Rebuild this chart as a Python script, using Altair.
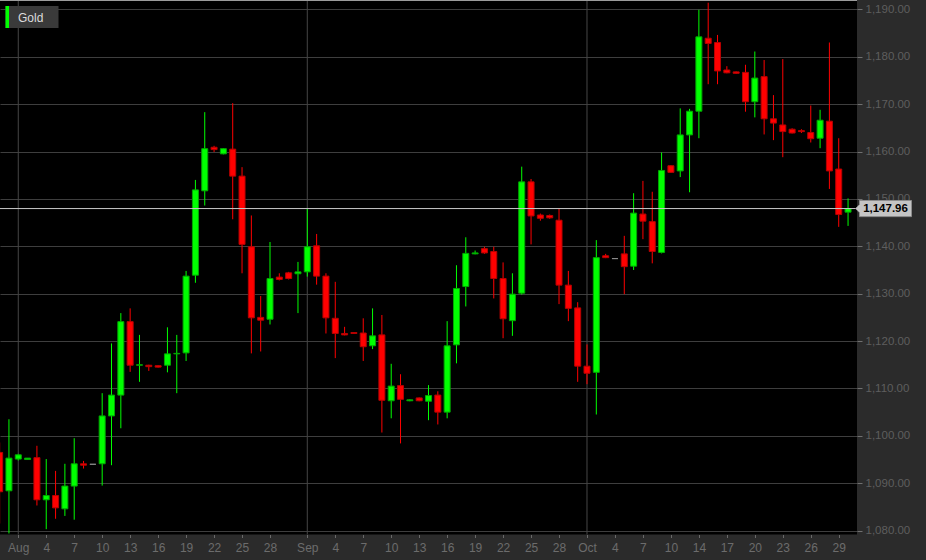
import json

import altair as alt
import numpy as np
import pandas as pd

# Daily gold candles, one session per calendar slot, first one two slots before Aug 1
series_name = "Gold"
first_session = -2

opens = [
    1096.5, 1088.4, 1095.1, 1095.0, 1095.4, 1086.5, 1087.4, 1084.6, 1089.4, 1094.1,
    1094.0, 1094.1, 1104.2, 1108.6, 1124.1, 1114.9, 1114.9, 1114.8, 1114.9, 1117.3,
    1117.5, 1133.9, 1151.7, 1160.9, 1159.5, 1160.5, 1154.8, 1139.9, 1125.0, 1124.6,
    1133.5, 1134.4, 1134.2, 1134.6, 1140.1, 1133.7, 1124.8, 1121.6, 1121.8, 1121.7,
    1119.0, 1121.3, 1107.4, 1110.6, 1107.4, 1108.0, 1107.3, 1108.6, 1105.0, 1119.2,
    1131.5, 1138.4, 1139.5, 1138.9, 1133.2, 1124.3, 1130.1, 1153.6, 1146.6, 1146.5,
    1145.5, 1131.8, 1127.0, 1114.7, 1113.4, 1138.0, 1137.4, 1138.4, 1135.8, 1146.8,
    1145.2, 1138.7, 1157.0, 1155.9, 1163.5, 1168.5, 1183.9, 1183.0, 1177.2, 1176.8,
    1176.7, 1170.5, 1175.8, 1166.9, 1165.6, 1164.7, 1164.4, 1164.0, 1162.8, 1166.4,
    1156.3, 1147.2,
]
highs = [
    1098.6, 1103.5, 1096.2, 1095.2, 1097.9, 1095.1, 1092.6, 1094.1, 1099.5, 1094.7,
    1094.0, 1109.0, 1119.5, 1125.9, 1126.9, 1121.3, 1115.0, 1114.9, 1122.9, 1121.3,
    1134.8, 1154.0, 1168.3, 1161.2, 1160.7, 1170.2, 1156.7, 1146.5, 1129.5, 1140.9,
    1134.3, 1134.6, 1136.7, 1148.0, 1142.6, 1134.3, 1132.5, 1123.0, 1121.9, 1124.8,
    1126.9, 1125.5, 1115.2, 1113.0, 1107.7, 1108.1, 1110.7, 1109.4, 1124.2, 1136.0,
    1141.9, 1139.1, 1139.9, 1139.9, 1136.6, 1134.3, 1156.8, 1154.2, 1146.9, 1146.7,
    1148.0, 1134.8, 1128.2, 1119.3, 1141.3, 1138.4, 1137.4, 1142.2, 1151.2, 1153.8,
    1151.5, 1159.8, 1157.1, 1169.1, 1169.0, 1189.9, 1191.4, 1184.6, 1178.0, 1176.9,
    1178.3, 1181.1, 1179.3, 1171.9, 1179.5, 1164.9, 1164.7, 1169.7, 1168.8, 1183.0,
    1162.8, 1150.1,
]
lows = [
    1081.5, 1079.4, 1094.8, 1094.9, 1085.3, 1080.3, 1082.5, 1083.1, 1082.3, 1093.1,
    1094.0, 1089.5, 1093.8, 1101.6, 1113.5, 1111.4, 1113.7, 1114.4, 1113.4, 1109.0,
    1115.8, 1132.3, 1148.6, 1159.9, 1159.4, 1145.7, 1134.3, 1117.4, 1117.8, 1123.5,
    1132.8, 1133.0, 1125.9, 1133.6, 1131.9, 1121.6, 1116.4, 1121.2, 1121.5, 1115.8,
    1118.3, 1100.7, 1103.7, 1098.4, 1107.3, 1107.3, 1103.3, 1102.4, 1103.7, 1115.3,
    1127.3, 1138.3, 1138.4, 1129.0, 1120.6, 1121.1, 1129.8, 1140.4, 1145.4, 1145.8,
    1127.8, 1124.2, 1111.4, 1110.9, 1104.5, 1137.5, 1137.4, 1129.9, 1135.0, 1141.5,
    1136.4, 1138.5, 1155.5, 1154.6, 1151.4, 1162.8, 1174.2, 1174.2, 1176.5, 1176.4,
    1168.4, 1167.2, 1163.6, 1162.4, 1158.8, 1163.8, 1163.9, 1161.9, 1160.7, 1152.1,
    1144.1, 1144.3,
]
closes = [
    1088.2, 1095.3, 1096.0, 1095.3, 1086.5, 1087.4, 1084.8, 1089.4, 1094.1, 1093.8,
    1094.0, 1104.2, 1108.6, 1124.1, 1114.9, 1115.0, 1114.6, 1114.5, 1117.3, 1117.4,
    1133.7, 1151.9, 1160.6, 1160.4, 1160.6, 1154.8, 1140.4, 1124.9, 1124.4, 1133.2,
    1133.0, 1133.2, 1134.6, 1139.9, 1133.7, 1124.9, 1121.6, 1121.3, 1121.6, 1118.8,
    1121.1, 1107.5, 1110.5, 1107.7, 1107.6, 1107.4, 1108.5, 1105.0, 1119.0, 1131.1,
    1138.5, 1138.6, 1138.6, 1133.2, 1124.7, 1129.9, 1153.6, 1146.4, 1145.9, 1146.0,
    1131.8, 1126.9, 1114.7, 1113.2, 1137.6, 1137.6, 1137.4, 1135.7, 1147.0, 1145.3,
    1138.9, 1156.0, 1155.6, 1163.5, 1168.5, 1184.2, 1182.8, 1177.0, 1176.6, 1176.5,
    1170.5, 1175.5, 1166.9, 1166.0, 1164.2, 1163.9, 1164.2, 1162.7, 1166.6, 1155.9,
    1146.7, 1147.96,
]

# Bottom axis: session number -> label
tick_sessions = [0, 3, 6, 9, 12, 15, 18, 21, 24, 27,
                 31, 34, 37, 40, 43, 46, 49, 52, 55, 58,
                 61, 64, 67, 70, 73, 76, 79, 82, 85, 88]
tick_labels = ["Aug", "4", "7", "10", "13", "16", "19", "22", "25", "28",
               "Sep", "4", "7", "10", "13", "16", "19", "22", "25", "28",
               "Oct", "4", "7", "10", "14", "17", "20", "23", "26", "29"]
month_sessions = [0, 31, 61]
price_ticks = [1080, 1090, 1100, 1110, 1120, 1130, 1140, 1150, 1160, 1170, 1180, 1190]

PLOT_W, PLOT_H = 857, 534.5
x_domain = [-1.96, 89.96]
y_domain = [1079.18, 1191.97]

o = np.array(opens)
c = np.array(closes)
df = pd.DataFrame({
    "session": np.arange(first_session, first_session + len(opens)),
    "open": opens, "high": highs, "low": lows, "close": closes,
    "dir": np.where(c > o, "up", np.where(c < o, "down", "flat")),
})

xs = alt.Scale(domain=x_domain, nice=False, zero=False, padding=0)
ys = alt.Scale(domain=y_domain, nice=False, zero=False, padding=0)
dir_domain = ["up", "down", "flat"]
fill_scale = alt.Scale(domain=dir_domain, range=["#00ff00", "#ff0000", "#8a8a8a"])
stroke_scale = alt.Scale(domain=dir_domain, range=["#00a800", "#b80000", "#8a8a8a"])

label_expr = "{}[indexof({}, datum.value)]".format(json.dumps(tick_labels), json.dumps(tick_sessions))

x_axis = alt.Axis(values=tick_sessions, labelExpr=label_expr, title=None, grid=False,
                  domain=False, ticks=True, tickSize=3, tickColor="#6a6a6a",
                  labelColor="#6c6c6c", labelFontSize=12, labelFont="Liberation Sans",
                  labelPadding=5)
y_axis = alt.Axis(orient="right", values=price_ticks, format=",.2f", title=None,
                  grid=True, gridColor="#3e3e3e", gridWidth=1, domain=False,
                  tickSize=5, tickColor="#707070", labelColor="#5e5e5e",
                  labelFontSize=11.5, labelFont="Liberation Sans", labelPadding=3)


def px(field):
    return alt.X(field, type="quantitative", scale=xs, axis=x_axis)


def py(field):
    return alt.Y(field, type="quantitative", scale=ys, axis=y_axis)


# Month separators
months = alt.Chart(pd.DataFrame({"session": month_sessions})).mark_rule(
    color="#464646", strokeWidth=1
).encode(
    x=px("session"),
    y=alt.value(0), y2=alt.value(PLOT_H),
)

base = alt.Chart(df)

wicks = base.mark_rule(strokeWidth=1, clip=True).encode(
    x=px("session"),
    y=py("low"),
    y2="high:Q",
    color=alt.Color("dir:N", scale=fill_scale, legend=None),
)

bodies = base.mark_bar(size=6, strokeWidth=1, clip=True).encode(
    x=px("session"),
    y=py("open"),
    y2="close:Q",
    fill=alt.Fill("dir:N", scale=fill_scale, legend=None),
    stroke=alt.Stroke("dir:N", scale=stroke_scale, legend=None),
)

last = pd.DataFrame({"close": [closes[-1]]})

last_line = alt.Chart(last).mark_rule(color="#c8c8c8", strokeWidth=1).encode(
    x=alt.value(0), x2=alt.value(PLOT_W),
    y=py("close"),
)

# Price tag: box with a small pointer on its left side
tag_path = "M -1.15 0 L -1 -0.16 L -1 -0.31 L 1 -0.31 L 1 0.31 L -1 0.31 L -1 0.16 Z"
tag_box = alt.Chart(last).mark_point(
    shape=tag_path, size=2704, filled=True, fill="#c4c4c4", stroke="#8c8c8c",
    strokeWidth=1, opacity=1
).encode(
    x=alt.value(885.5),
    y=py("close"),
)
tag_text = alt.Chart(last).mark_text(
    font="Liberation Sans", fontSize=11.5, fontWeight="bold", color="#000000",
    align="center", baseline="middle", dy=0.5
).encode(
    x=alt.value(885.5),
    y=py("close"),
    text=alt.Text("close:Q", format=",.2f"),
)

top_edge = alt.Chart(last).mark_rule(color="#9c9c9c", strokeWidth=1).encode(
    x=alt.value(0), x2=alt.value(PLOT_W), y=alt.value(0.5),
)

name_df = pd.DataFrame({"name": [series_name]})
key_box = alt.Chart(name_df).mark_rect(fill="#3a3a3a").encode(
    x=alt.value(5.5), x2=alt.value(58.5), y=alt.value(6), y2=alt.value(28),
)
key_swatch = alt.Chart(name_df).mark_rect(fill="#00ff00").encode(
    x=alt.value(5.5), x2=alt.value(9), y=alt.value(6), y2=alt.value(28),
)
key_text = alt.Chart(name_df).mark_text(
    font="Liberation Sans", fontSize=12, color="#dcdcdc", align="left", baseline="middle"
).encode(
    x=alt.value(18), y=alt.value(17.5), text="name:N",
)

chart = alt.layer(
    months, wicks, bodies, last_line, top_edge, tag_box, tag_text,
    key_box, key_swatch, key_text,
).properties(
    width=PLOT_W, height=PLOT_H,
    background="#2b2b2b",
    padding={"left": 0, "top": 0, "right": 69, "bottom": 25.5},
    autosize=alt.AutoSizeParams(type="none"),
).configure_view(
    fill="#000000", stroke=None,
)

chart.save("out.html", embed_options={"renderer": "svg", "actions": False})
